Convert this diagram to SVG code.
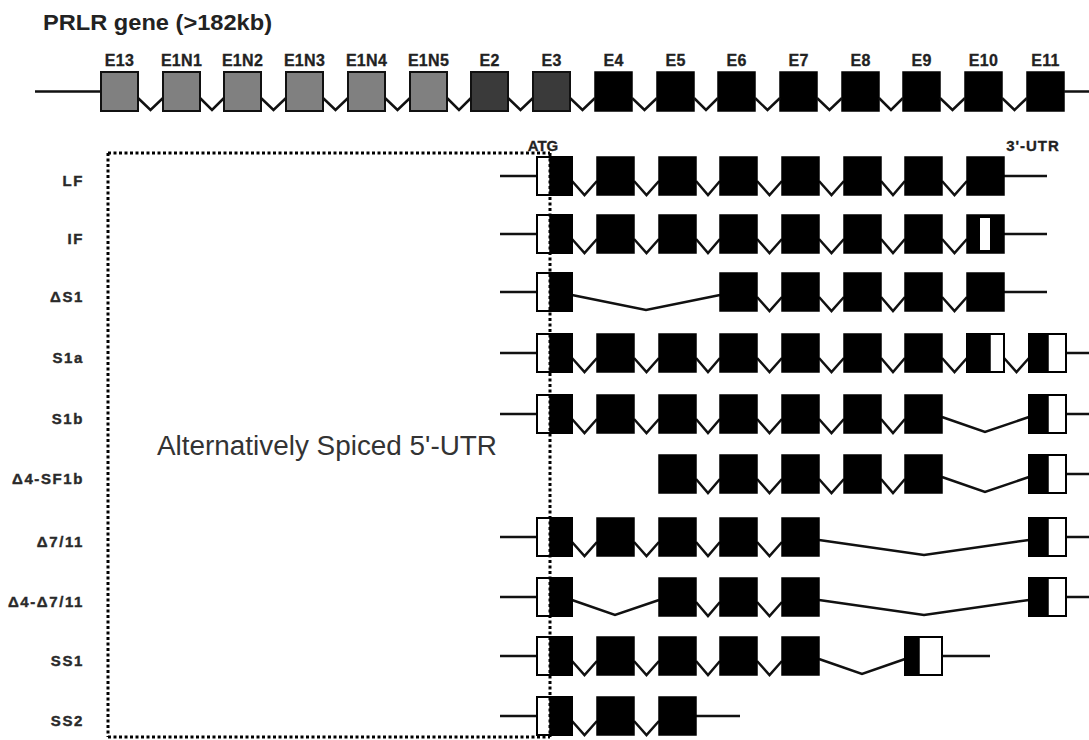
<svg xmlns="http://www.w3.org/2000/svg" width="1089" height="740" viewBox="0 0 1089 740">
<style>
.bg{fill:#fff}
.t{font-family:"Liberation Sans",Arial,sans-serif;font-weight:bold;fill:#222}
.ex{font-size:16px;text-anchor:middle;letter-spacing:0.3px;stroke:#222;stroke-width:0.3}
.rl{font-size:15px;text-anchor:end;letter-spacing:1.6px;fill:#2a2a2a;stroke:#2a2a2a;stroke-width:0.4}
.big{font-family:"Liberation Sans",Arial,sans-serif;font-size:27px;fill:#333}
.g1{fill:#808080;stroke:#111;stroke-width:2}
.g2{fill:#3a3a3a;stroke:#111;stroke-width:2}
.bk{fill:#000;stroke:#000;stroke-width:1.5}
.wh{fill:#fff;stroke:#000;stroke-width:2}
.ln{fill:none;stroke:#111;stroke-width:2.5;stroke-linejoin:miter}
.dot{fill:none;stroke:#000;stroke-width:3;stroke-dasharray:3 2.5}
</style>
<rect class="bg" x="0" y="0" width="1089" height="740"/>
<text class="t" x="43" y="30" font-size="22" textLength="229" lengthAdjust="spacingAndGlyphs">PRLR gene (&gt;182kb)</text>

<g id="gene">
<g id="labels-exons" class="t ex">
<text x="119.5" y="66">E13</text><text x="181.5" y="66">E1N1</text><text x="242.5" y="66">E1N2</text><text x="304.5" y="66">E1N3</text><text x="366.5" y="66">E1N4</text><text x="428.5" y="66">E1N5</text><text x="489.5" y="66">E2</text><text x="551.5" y="66">E3</text><text x="613.5" y="66">E4</text><text x="675.5" y="66">E5</text><text x="736.5" y="66">E6</text><text x="798.5" y="66">E7</text><text x="860.5" y="66">E8</text><text x="921.5" y="66">E9</text><text x="983.5" y="66">E10</text><text x="1045.5" y="66">E11</text>
</g>
<g id="gene-exons">
<rect class="g1" x="101" y="72" width="37" height="39"/><rect class="g1" x="163" y="72" width="37" height="39"/><rect class="g1" x="224" y="72" width="37" height="39"/><rect class="g1" x="286" y="72" width="37" height="39"/><rect class="g1" x="348" y="72" width="37" height="39"/><rect class="g1" x="410" y="72" width="37" height="39"/>
<rect class="g2" x="471" y="72" width="37" height="39"/><rect class="g2" x="533" y="72" width="37" height="39"/>
<rect class="bk" x="595" y="72" width="37" height="39"/><rect class="bk" x="657" y="72" width="37" height="39"/><rect class="bk" x="718" y="72" width="37" height="39"/><rect class="bk" x="780" y="72" width="37" height="39"/><rect class="bk" x="842" y="72" width="37" height="39"/><rect class="bk" x="903" y="72" width="37" height="39"/><rect class="bk" x="965" y="72" width="37" height="39"/><rect class="bk" x="1027" y="72" width="37" height="39"/>
</g>
</g>

<g id="frame">
<line class="dot" x1="108" y1="153" x2="550" y2="153"/>
<line class="dot" x1="108" y1="153" x2="108" y2="737"/>
<line class="dot" x1="108" y1="737" x2="550" y2="737"/>
</g>
<text class="t" x="543" y="151" font-size="15" text-anchor="middle" stroke="#222" stroke-width="0.3">ATG</text>
<text class="t" x="1033" y="151" font-size="15" text-anchor="middle" letter-spacing="1" stroke="#222" stroke-width="0.3">3'-UTR</text>
<text class="big" x="157" y="455" textLength="340" lengthAdjust="spacingAndGlyphs">Alternatively Spiced 5'-UTR</text>

<g id="row-labels" class="t rl">
<text x="84" y="186">LF</text>
<text x="84" y="244">IF</text>
<text x="84" y="302">ΔS1</text>
<text x="84" y="363">S1a</text>
<text x="84" y="424">S1b</text>
<text x="84" y="484">Δ4-SF1b</text>
<text x="84" y="547">Δ7/11</text>
<text x="84" y="607">Δ4-Δ7/11</text>
<text x="84" y="666">SS1</text>
<text x="84" y="726">SS2</text>
</g>

<g id="connectors" class="ln">
<path d="M35,91.5H101 M1064,91.5H1089"/>
<path d="M138,98L150.5,110L163,98 M200,98L212,110L224,98 M261,98L273.5,110L286,98 M323,98L335.5,110L348,98 M385,98L397.5,110L410,98 M447,98L459,110L471,98 M508,98L520.5,110L533,98 M570,98L582.5,110L595,98 M632,98L644.5,110L657,98 M694,98L706,110L718,98 M755,98L767.5,110L780,98 M817,98L829.5,110L842,98 M879,98L891,110L903,98 M940,98L952.5,110L965,98 M1002,98L1014.5,110L1027,98"/>
<path d="M500,176H537 M1004,176H1047 M572,181L584.5,195L597,181 M634,181L646.5,195L659,181 M696,181L708,195L720,181 M757,181L769.5,195L782,181 M819,181L831.5,195L844,181 M881,181L893,195L905,181 M942,181L954.5,195L967,181"/>
<path d="M500,234H537 M1004,234H1047 M572,239L584.5,253L597,239 M634,239L646.5,253L659,239 M696,239L708,253L720,239 M757,239L769.5,253L782,239 M819,239L831.5,253L844,239 M881,239L893,253L905,239 M942,239L954.5,253L967,239"/>
<path d="M500,292H537 M1004,292H1047 M572,295L646,310L720,295 M757,297L769.5,311L782,297 M819,297L831.5,311L844,297 M881,297L893,311L905,297 M942,297L954.5,311L967,297"/>
<path d="M500,353H537 M1066,353H1089 M572,358L584.5,372L597,358 M634,358L646.5,372L659,358 M696,358L708,372L720,358 M757,358L769.5,372L782,358 M819,358L831.5,372L844,358 M881,358L893,372L905,358 M942,358L954.5,372L967,358 M1004,358L1016.5,372L1029,358"/>
<path d="M500,414H537 M1066,414H1089 M572,419L584.5,433L597,419 M634,419L646.5,433L659,419 M696,419L708,433L720,419 M757,419L769.5,433L782,419 M819,419L831.5,433L844,419 M881,419L893,433L905,419 M942,417L985,432L1029,417"/>
<path d="M1066,474H1089 M696,479L708,493L720,479 M757,479L769.5,493L782,479 M819,479L831.5,493L844,479 M881,479L893,493L905,479 M942,477L985,492L1029,477"/>
<path d="M500,537H537 M1066,537H1089 M572,542L584.5,556L597,542 M634,542L646.5,556L659,542 M696,542L708,556L720,542 M757,542L769.5,556L782,542 M819,540L924,555L1029,540"/>
<path d="M500,597H537 M1066,597H1089 M572,600L615,615L659,600 M696,602L708,616L720,602 M757,602L769.5,616L782,602 M819,600L924,615L1029,600"/>
<path d="M500,656H537 M942,656H990 M572,661L584.5,675L597,661 M634,661L646.5,675L659,661 M696,661L708,675L720,661 M757,661L769.5,675L782,661 M819,659L862,674L905,659"/>
<path d="M500,716H537 M696,716H740 M572,721L584.5,735L597,721 M634,721L646.5,735L659,721"/>
</g>

<g id="tr-LF">
<rect class="wh" x="537" y="157" width="35" height="38"/><rect class="bk" x="550" y="157" width="22" height="38"/>
<rect class="bk" x="597" y="157" width="37" height="38"/><rect class="bk" x="659" y="157" width="37" height="38"/><rect class="bk" x="720" y="157" width="37" height="38"/><rect class="bk" x="782" y="157" width="37" height="38"/><rect class="bk" x="844" y="157" width="37" height="38"/><rect class="bk" x="905" y="157" width="37" height="38"/><rect class="bk" x="967" y="157" width="37" height="38"/>
</g>
<g id="tr-IF">
<rect class="wh" x="537" y="215" width="35" height="38"/><rect class="bk" x="550" y="215" width="22" height="38"/>
<rect class="bk" x="597" y="215" width="37" height="38"/><rect class="bk" x="659" y="215" width="37" height="38"/><rect class="bk" x="720" y="215" width="37" height="38"/><rect class="bk" x="782" y="215" width="37" height="38"/><rect class="bk" x="844" y="215" width="37" height="38"/><rect class="bk" x="905" y="215" width="37" height="38"/><rect class="bk" x="967" y="215" width="37" height="38"/>
<rect x="980" y="218" width="10" height="32" fill="#fff"/>
</g>
<g id="tr-dS1">
<rect class="wh" x="537" y="273" width="35" height="38"/><rect class="bk" x="550" y="273" width="22" height="38"/>
<rect class="bk" x="720" y="273" width="37" height="38"/><rect class="bk" x="782" y="273" width="37" height="38"/><rect class="bk" x="844" y="273" width="37" height="38"/><rect class="bk" x="905" y="273" width="37" height="38"/><rect class="bk" x="967" y="273" width="37" height="38"/>
</g>
<g id="tr-S1a">
<rect class="wh" x="537" y="334" width="35" height="38"/><rect class="bk" x="550" y="334" width="22" height="38"/>
<rect class="bk" x="597" y="334" width="37" height="38"/><rect class="bk" x="659" y="334" width="37" height="38"/><rect class="bk" x="720" y="334" width="37" height="38"/><rect class="bk" x="782" y="334" width="37" height="38"/><rect class="bk" x="844" y="334" width="37" height="38"/><rect class="bk" x="905" y="334" width="37" height="38"/>
<rect class="wh" x="967" y="334" width="37" height="38"/><rect class="bk" x="967" y="334" width="23" height="38"/>
<rect class="wh" x="1029" y="334" width="37" height="38"/><rect class="bk" x="1029" y="334" width="19" height="38"/>
</g>
<g id="tr-S1b">
<rect class="wh" x="537" y="395" width="35" height="38"/><rect class="bk" x="550" y="395" width="22" height="38"/>
<rect class="bk" x="597" y="395" width="37" height="38"/><rect class="bk" x="659" y="395" width="37" height="38"/><rect class="bk" x="720" y="395" width="37" height="38"/><rect class="bk" x="782" y="395" width="37" height="38"/><rect class="bk" x="844" y="395" width="37" height="38"/><rect class="bk" x="905" y="395" width="37" height="38"/>
<rect class="wh" x="1029" y="395" width="37" height="38"/><rect class="bk" x="1029" y="395" width="19" height="38"/>
</g>
<g id="tr-d4-SF1b">
<rect class="bk" x="659" y="455" width="37" height="38"/><rect class="bk" x="720" y="455" width="37" height="38"/><rect class="bk" x="782" y="455" width="37" height="38"/><rect class="bk" x="844" y="455" width="37" height="38"/><rect class="bk" x="905" y="455" width="37" height="38"/>
<rect class="wh" x="1029" y="455" width="37" height="38"/><rect class="bk" x="1029" y="455" width="19" height="38"/>
</g>
<g id="tr-d7-11">
<rect class="wh" x="537" y="518" width="35" height="38"/><rect class="bk" x="550" y="518" width="22" height="38"/>
<rect class="bk" x="597" y="518" width="37" height="38"/><rect class="bk" x="659" y="518" width="37" height="38"/><rect class="bk" x="720" y="518" width="37" height="38"/><rect class="bk" x="782" y="518" width="37" height="38"/>
<rect class="wh" x="1029" y="518" width="37" height="38"/><rect class="bk" x="1029" y="518" width="19" height="38"/>
</g>
<g id="tr-d4-d7-11">
<rect class="wh" x="537" y="578" width="35" height="38"/><rect class="bk" x="550" y="578" width="22" height="38"/>
<rect class="bk" x="659" y="578" width="37" height="38"/><rect class="bk" x="720" y="578" width="37" height="38"/><rect class="bk" x="782" y="578" width="37" height="38"/>
<rect class="wh" x="1029" y="578" width="37" height="38"/><rect class="bk" x="1029" y="578" width="19" height="38"/>
</g>
<g id="tr-SS1">
<rect class="wh" x="537" y="637" width="35" height="38"/><rect class="bk" x="550" y="637" width="22" height="38"/>
<rect class="bk" x="597" y="637" width="37" height="38"/><rect class="bk" x="659" y="637" width="37" height="38"/><rect class="bk" x="720" y="637" width="37" height="38"/><rect class="bk" x="782" y="637" width="37" height="38"/>
<rect class="wh" x="905" y="637" width="37" height="38"/><rect class="bk" x="905" y="637" width="14" height="38"/>
</g>
<g id="tr-SS2">
<rect class="wh" x="537" y="697" width="35" height="38"/><rect class="bk" x="550" y="697" width="22" height="38"/>
<rect class="bk" x="597" y="697" width="37" height="38"/><rect class="bk" x="659" y="697" width="37" height="38"/>
</g>
<line id="atg-line" class="dot" x1="550" y1="153" x2="550" y2="737"/>
</svg>
